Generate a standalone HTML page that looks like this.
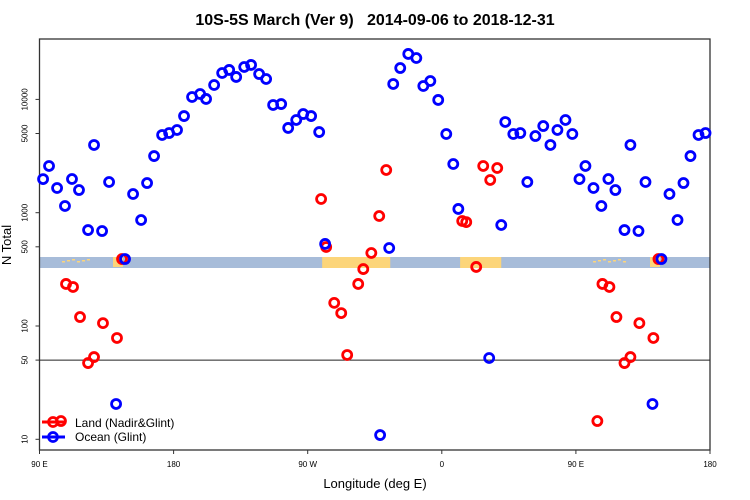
<!DOCTYPE html>
<html><head><meta charset="utf-8"><style>
body{margin:0;background:#fff;}
svg{display:block;font-family:"Liberation Sans",sans-serif;}
#title{white-space:pre;}
</style></head><body>
<svg id="chart" width="750" height="500">
<text id="title" x="375" y="25" text-anchor="middle" font-size="16" font-weight="bold" xml:space="preserve">10S-5S March (Ver 9)   2014-09-06 to 2018-12-31</text>
<text x="375" y="488" text-anchor="middle" font-size="13">Longitude (deg E)</text>
<text transform="translate(11,245) rotate(-90)" text-anchor="middle" font-size="13">N Total</text>
<g id="band"></g>
<g id="axes"></g>
<g id="marks"></g>
<g>
<line x1="42" y1="422" x2="65" y2="422" stroke="#f00" stroke-width="3"/>
<circle cx="53" cy="422" r="4.5" fill="none" stroke="#f00" stroke-width="2.7"/>
<text x="75" y="427" font-size="12">Land (Nadir&amp;Glint)</text>
<line x1="42" y1="437" x2="65" y2="437" stroke="#00f" stroke-width="3"/>
<circle cx="53" cy="437" r="4.5" fill="none" stroke="#00f" stroke-width="2.7"/>
<text x="75" y="441" font-size="12">Ocean (Glint)</text>
</g>
</svg>
<script>
const xTicks=[90,180,270,360,450,540];
const xTickLabels=["90 E","180","90 W","0","90 E","180"];
const yTicks=[10,50,100,500,1000,5000,10000];
const landLon=[[279.7,325.4],[372.3,399.9]];
const oceanBaseLon=[92.4,96.4,101.8,107.1,111.8,116.5,122.6,126.6,132.0,136.7,147.4,152.8,158.2,162.2,166.9,172.3,177.0,141.4];
const oceanBaseN=[1980,2584,1652,1146,1983,1585,703,3960,689,1866,390,1462,862,1828,3162,4853,5050,20.5];
const oceanLon=[182.3,187.0,192.4,197.8,201.8,207.2,212.6,217.3,222.0,227.4,232.0,237.4,242.1,246.8,252.2,256.9,262.3,267.0,272.3,277.7,281.7,324.7,327.4,332.1,337.5,342.9,347.6,352.3,357.6,363.0,367.7,371.1,399.9,402.6,408.0,412.7,417.4,422.8,428.1,432.9,437.6,443.0,447.6,318.6,391.8];
const oceanN=[5370,7130,10500,11160,10090,13400,17100,18200,15780,19320,20140,16750,15140,8930,9100,5600,6580,7430,7130,5150,530,488,13680,18920,25180,23190,13130,14530,9890,4950,2690,1079,779,6320,4950,5050,1866,4750,5820,3960,5370,6580,4950,10.9,52.2];
const landBaseLon=[107.8,112.5,117.2,122.6,126.6,132.6,142.0,145.4,104.4];
const landBaseN=[235,221,120,47.1,53.2,106,78.4,390,14.5];
const landLonMid=[279.0,282.4,287.8,292.5,296.5,303.9,307.3,312.7,318.0,322.7,373.7,376.4,383.1,387.8,392.5,397.2];
const landNMid=[1321,498,160,130,55.5,235,318,441,935,2382,845,826,332,2584,1944,2480];

const X0=39.5,X1=710,Y0=39,Y1=450;
const xs=l=>X0+(l-90)*(X1-X0)/450;
const ys=v=>439.3-(Math.log10(v)-1)*113.3;
const NS="http://www.w3.org/2000/svg";
function mk(tag,attrs,parent){const e=document.createElementNS(NS,tag);for(const k in attrs)e.setAttribute(k,attrs[k]);parent.appendChild(e);return e;}
const band=document.getElementById('band'),axes=document.getElementById('axes'),marks=document.getElementById('marks');
let r=mk('rect',{x:X0,y:257,width:X1-X0,height:11,fill:'#a7bcd9'},band);


landLon.forEach(p=>{const e=mk('rect',{x:xs(p[0]),y:257,width:xs(p[1])-xs(p[0]),height:11,fill:'#fcd57a'},band);

});
[[62,90],[593,627]].forEach(p=>{for(let x=p[0];x<p[1];x+=5){mk('rect',{x:x,y:259+(x%3),width:3,height:1.5,fill:'#fcd57a'},band);}});
mk('rect',{x:113,y:257,width:10,height:10,fill:'#fcd57a'},band);
mk('rect',{x:650,y:257,width:10,height:10,fill:'#fcd57a'},band);
const fr=mk('rect',{x:X0,y:Y0,width:X1-X0,height:Y1-Y0,fill:'none',stroke:'#333',"stroke-width":1.3},axes);


const hl=mk('line',{x1:X0,x2:X1,y1:ys(50),y2:ys(50),stroke:'#222',"stroke-width":1},axes);


xTicks.forEach((t,i)=>{mk('line',{x1:xs(t),x2:xs(t),y1:Y1,y2:Y1+4,stroke:'#333'},axes);
const tx=mk('text',{x:xs(t),y:Y1+17,"font-size":8,"text-anchor":"middle"},axes);tx.textContent=xTickLabels[i];

});
yTicks.forEach(t=>{mk('line',{x1:X0-4,x2:X0,y1:ys(t),y2:ys(t),stroke:'#333'},axes);
const tx=mk('text',{transform:`translate(${X0-12},${ys(t)}) rotate(-90)`,"font-size":8,"text-anchor":"middle"},axes);tx.textContent=t;

});
function pt(l,v,col,name){const c=mk('circle',{cx:xs(l),cy:ys(v),r:4.5,fill:'none',stroke:col,"stroke-width":2.8},marks);

}
const landAllLon=landBaseLon.concat(landLonMid,landBaseLon.map(l=>l+360));
const landAllN=landBaseN.concat(landNMid,landBaseN);
landAllLon.forEach((l,i)=>pt(l,landAllN[i],'#f00','land-point'));
const oceanAllLon=oceanBaseLon.concat(oceanLon,oceanBaseLon.map(l=>l+360));
const oceanAllN=oceanBaseN.concat(oceanN,oceanBaseN);
oceanAllLon.forEach((l,i)=>pt(l,oceanAllN[i],'#00f','ocean-point'));
</script>
</body></html>
